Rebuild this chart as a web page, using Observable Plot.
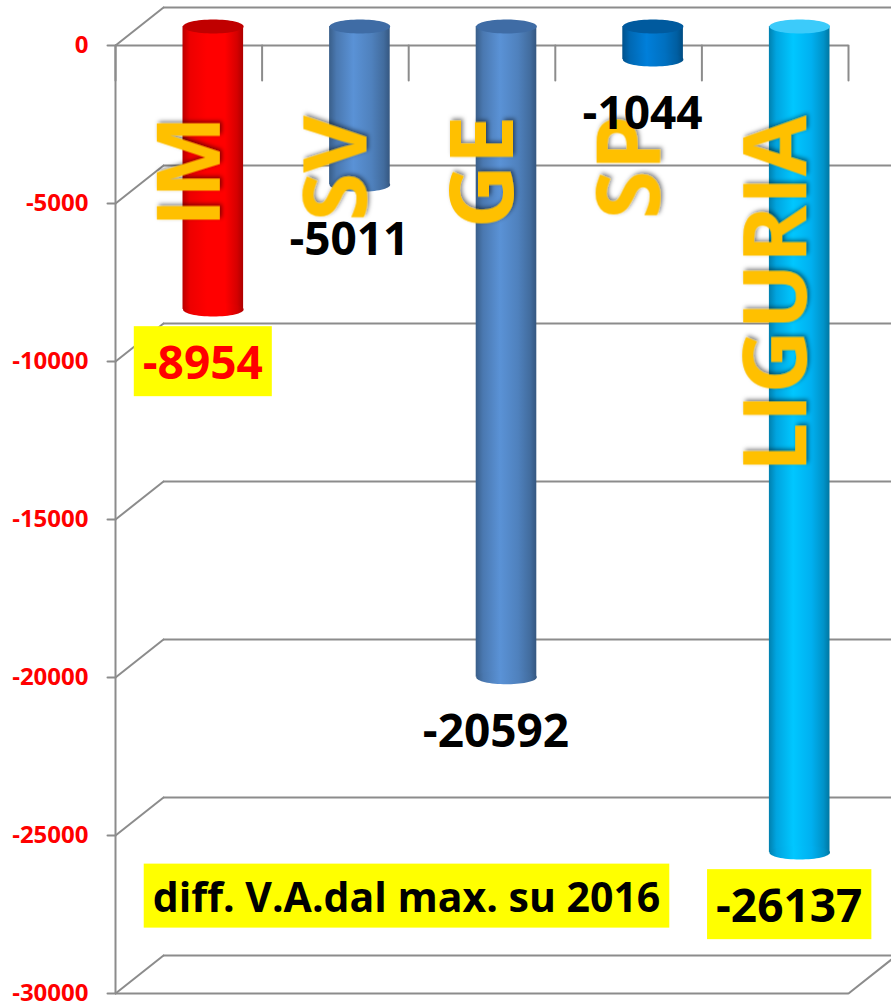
<!DOCTYPE html>
<html><head><meta charset="utf-8">
<script src="https://cdn.jsdelivr.net/npm/d3@7"></script>
<script src="https://cdn.jsdelivr.net/npm/@observablehq/plot@0.6"></script>
<style>body{margin:0;background:#fff;} svg{display:block}</style>
</head><body><div id="chart"></div>
<script>
const categories = ["IM", "SV", "GE", "SP", "LIGURIA"];
const values = [-8954, -5011, -20592, -1044, -26137];
const valueLabels = ["-8954", "-5011", "-20592", "-1044", "-26137"];
const barColors = ["#FF0000", "#4F81BD", "#4F81BD", "#0070C0", "#00B0F0"];
const capColors = ["#C00000", "#3F6CA5", "#3F6CA5", "#005A9E", "#3CCBFA"];
const valueTextColors = ["#FF0000", "#000000", "#000000", "#000000", "#000000"];
const highlighted = [true, false, false, false, true];
const yTicks = [0, -5000, -10000, -15000, -20000, -25000, -30000];
const yTickLabels = ["0", "-5000", "-10000", "-15000", "-20000", "-25000", "-30000"];
const caption = "diff. V.A.dal max. su 2016";

const rows = categories.map((cat, i) => ({
  cat, i, value: values[i], label: valueLabels[i],
  fill: `url(#cyl${i})`, cap: capColors[i], tc: valueTextColors[i], hl: highlighted[i]
}));
const boundaries = d3.range(categories.length + 1);

const GRID = "#8c8c8c";
const FONT = "Open Sans";
const DX = 48, DY = -38;            // depth of the 3D box in pixels
const BX = 24.5, BY = -19;          // bars sit half-way in depth
const DEPTH_LEN = Math.hypot(DX, DY);
const DEPTH_ROT = Math.atan2(DX, -DY) * 180 / Math.PI;

const lineShape = {draw(ctx, l) { ctx.moveTo(0, 0); ctx.lineTo(0, -l); }};
const ellipseSym = {draw(ctx, size) {
  const rx = Math.sqrt(size / Math.PI), ry = rx * 0.23, k = 0.5523;
  ctx.moveTo(-rx, 0);
  ctx.bezierCurveTo(-rx, -ry * k, -rx * k, -ry, 0, -ry);
  ctx.bezierCurveTo(rx * k, -ry, rx, -ry * k, rx, 0);
  ctx.bezierCurveTo(rx, ry * k, rx * k, ry, 0, ry);
  ctx.bezierCurveTo(-rx * k, ry, -rx, ry * k, -rx, 0);
  ctx.closePath();
}};

const plot = Plot.plot({
  width: 891, height: 1004,
  marginLeft: 115, marginRight: 43, marginTop: 45, marginBottom: 11,
  x: {domain: [0, categories.length], axis: null},
  y: {domain: [-30000, 0], axis: null},
  color: {type: "identity"},
  style: {fontFamily: FONT, background: "white"},
  marks: [
    Plot.ruleY(yTicks, {x1: () => 0, x2: () => categories.length, dx: DX, dy: DY, stroke: GRID, strokeWidth: 2}),
    Plot.vector(yTicks, {x: () => 0, y: d => d, length: DEPTH_LEN, rotate: DEPTH_ROT, anchor: "start", shape: lineShape, stroke: GRID, strokeWidth: 2}),
    Plot.vector([-30000], {x: () => categories.length, y: d => d, length: DEPTH_LEN, rotate: DEPTH_ROT, anchor: "start", shape: lineShape, stroke: GRID, strokeWidth: 2}),
    Plot.ruleY([0, -30000], {x1: () => 0, x2: () => categories.length, stroke: GRID, strokeWidth: 2}),
    Plot.ruleX([0], {y1: () => -30000, y2: () => 0, stroke: GRID, strokeWidth: 2}),
    Plot.vector(boundaries, {x: d => d, y: () => 0, length: 35, rotate: 180, anchor: "start", shape: lineShape, stroke: GRID, strokeWidth: 2}),
    Plot.vector(yTicks, {x: () => 0, y: d => d, length: 8, rotate: -90, anchor: "start", shape: lineShape, stroke: GRID, strokeWidth: 2}),
    Plot.text(yTicks, {x: () => 0, y: d => d, text: (d, i) => yTickLabels[i], dx: -27, textAnchor: "end", fill: "#FF0000", fontWeight: "bold", fontSize: 24, fontFamily: FONT}),
    Plot.rect(rows, {x1: d => d.i, x2: d => d.i + 1, y1: () => 0, y2: "value", insetLeft: 43, insetRight: 43, dx: BX, dy: BY, fill: "fill"}),
    Plot.dot(rows, {x: d => d.i + 0.5, y: "value", r: 30.3, symbol: ellipseSym, dx: BX, dy: BY, fill: "fill", stroke: null}),
    Plot.dot(rows, {x: d => d.i + 0.5, y: () => 0, r: 30.3, symbol: ellipseSym, dx: BX, dy: BY, fill: "cap", stroke: null}),
    Plot.text(rows, {x: d => d.i + 0.5, y: () => -2215, text: "cat", rotate: -90, textAnchor: "end", lineAnchor: "middle", dx: 3, fill: "#FFC000", fontWeight: "bold", fontSize: 88, fontFamily: FONT}),
    Plot.text(rows, {x: d => d.i + 0.5, y: "value", text: "label", dx: 14, dy: 36, fill: "tc", fontWeight: "bold", fontSize: 46, fontFamily: FONT}),
    Plot.text([caption], {frameAnchor: "bottom-left", text: d => d, dx: 291, dy: -95, textAnchor: "middle", lineAnchor: "middle", fill: "#000", fontWeight: "bold", fontSize: 41, fontFamily: FONT})
  ]
});

document.getElementById("chart").appendChild(plot);
const svg = d3.select(plot);
const defs = svg.insert("defs", ":first-child");
barColors.forEach((c, i) => {
  const base = d3.color(c);
  const g = defs.append("linearGradient").attr("id", `cyl${i}`).attr("x1", 0).attr("x2", 1).attr("y1", 0).attr("y2", 0);
  [[0, base.darker(0.9)], [0.12, base.darker(0.2)], [0.4, base.brighter(0.35)], [0.7, base], [0.9, base.darker(0.5)], [1, base.darker(1.1)]]
    .forEach(([o, col]) => g.append("stop").attr("offset", o).attr("stop-color", col.formatHex()));
});
const f = defs.append("filter").attr("id", "shadow").attr("x", "-20%").attr("y", "-20%").attr("width", "140%").attr("height", "140%");
f.append("feDropShadow").attr("dx", 2).attr("dy", 2).attr("stdDeviation", 2).attr("flood-color", "#000").attr("flood-opacity", 0.5);

function boxText(t, padX, padY) {
  const b = t.getBBox();
  const r = document.createElementNS("http://www.w3.org/2000/svg", "rect");
  r.setAttribute("x", b.x - padX); r.setAttribute("y", b.y - padY);
  r.setAttribute("width", b.width + 2 * padX); r.setAttribute("height", b.height + 2 * padY);
  const tr = t.getAttribute("transform");
  if (tr) r.setAttribute("transform", tr);
  r.setAttribute("fill", "#FFFF00");
  t.parentNode.insertBefore(r, t);
}
const boxed = new Set([caption, ...valueLabels.filter((_, i) => highlighted[i])]);
const catSet = new Set(categories);
plot.querySelectorAll("text").forEach(t => {
  const s = t.textContent;
  if (boxed.has(s)) boxText(t, 9, 4);
  if (catSet.has(s)) t.setAttribute("filter", "url(#shadow)");
});
</script>
</body></html>
